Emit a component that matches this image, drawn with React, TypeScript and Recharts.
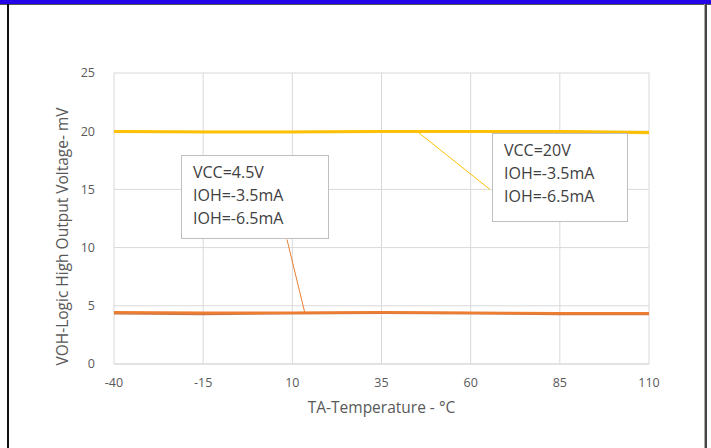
import React from 'react';
import { LineChart, Line, XAxis, YAxis, CartesianGrid, ReferenceLine } from 'recharts';

const temps = [-40, -15, 10, 35, 60, 85, 110];
const vcc45Ioh35 = [4.45, 4.4, 4.4, 4.45, 4.4, 4.35, 4.35];
const vcc45Ioh65 = [4.35, 4.3, 4.35, 4.4, 4.35, 4.3, 4.3];
const vcc20Ioh35 = [20.0, 19.95, 19.95, 20.0, 20.0, 20.0, 19.9];
const vcc20Ioh65 = [19.95, 19.9, 19.9, 19.95, 19.95, 19.95, 19.85];

const xTicks = [-40, -15, 10, 35, 60, 85, 110];
const yTicks = [0, 5, 10, 15, 20, 25];

const label45 = ['VCC=4.5V', 'IOH=-3.5mA', 'IOH=-6.5mA'];
const label20 = ['VCC=20V', 'IOH=-3.5mA', 'IOH=-6.5mA'];
// leader lines, in data units: [x1, y1, x2, y2]
const leader45 = [8.5, 10.7, 13.5, 4.4];
const leader20 = [44.9, 20.0, 65.4, 15.0];

const data = temps.map((t, i) => ({
  t,
  a: vcc45Ioh35[i],
  b: vcc45Ioh65[i],
  c: vcc20Ioh35[i],
  d: vcc20Ioh65[i],
}));

const font = '"Open Sans", "Noto Sans", sans-serif';
const tickStyle = { fill: '#595959', fontSize: 12.5, fontFamily: font };
const titleStyle = { fill: '#595959', fontSize: 15.5, fontFamily: font };

function NoteBox({ lines, left, top, width, height }: { lines: string[]; left: number; top: number; width: number; height: number }) {
  return (
    <div style={{
      position: 'absolute', left, top, width, height, boxSizing: 'border-box',
      background: '#fff', border: '1px solid #bfbfbf', padding: '5px 0 0 11px',
      fontFamily: font, fontSize: 16, lineHeight: '23px', color: '#404040',
    }}>
      {lines.map((l) => <div key={l}>{l}</div>)}
    </div>
  );
}

export default function App() {
  return (
    <div style={{ position: 'absolute', left: 0, top: 0, width: 711, height: 448, background: '#fff', overflow: 'hidden' }}>
      <div style={{ position: 'absolute', left: 0, top: 0, width: 711, height: 4, background: '#2405e8', borderBottom: '1px solid #555' }} />
      <div style={{ position: 'absolute', left: 7, top: 4, width: 2, height: 444, background: '#111' }} />
      <div style={{ position: 'absolute', left: 704, top: 4, width: 2, height: 444, background: '#444', borderLeft: '1px solid #aaa' }} />

      <LineChart width={711} height={448} data={data} margin={{ top: 73, right: 62, left: 54, bottom: 54 }}>
        <CartesianGrid stroke="#d9d9d9" />
        <XAxis
          dataKey="t" type="number" domain={[-40, 110]} ticks={xTicks}
          axisLine={{ stroke: '#d9d9d9' }} tickLine={false} tick={tickStyle}
          tickMargin={8} height={30}
          label={{ value: 'TA-Temperature - °C', position: 'bottom', offset: 8, style: titleStyle }}
        />
        <YAxis
          type="number" domain={[0, 25]} ticks={yTicks}
          axisLine={false} tickLine={false} tick={tickStyle}
          tickSize={0} tickMargin={19} width={60}
          label={{ value: 'VOH-Logic High Output Voltage- mV', angle: -90, position: 'insideLeft', offset: 8, dy: 18, style: { ...titleStyle, textAnchor: 'middle' } }}
        />
        <Line dataKey="b" stroke="#c9774a" strokeWidth={2.5} dot={false} isAnimationActive={false} />
        <Line dataKey="a" stroke="#ed7d31" strokeWidth={2.5} dot={false} isAnimationActive={false} />
        <Line dataKey="d" stroke="#f2c12e" strokeWidth={2.5} dot={false} isAnimationActive={false} />
        <Line dataKey="c" stroke="#ffc000" strokeWidth={2.5} dot={false} isAnimationActive={false} />
        <ReferenceLine
          segment={[{ x: leader45[0], y: leader45[1] }, { x: leader45[2], y: leader45[3] }]}
          stroke="#ed7d31" strokeWidth={1} ifOverflow="visible"
        />
        <ReferenceLine
          segment={[{ x: leader20[0], y: leader20[1] }, { x: leader20[2], y: leader20[3] }]}
          stroke="#ffc000" strokeWidth={1} ifOverflow="visible"
        />
      </LineChart>

      <NoteBox lines={label45} left={181} top={155} width={148} height={84} />
      <NoteBox lines={label20} left={492} top={133} width={136} height={89} />
    </div>
  );
}
